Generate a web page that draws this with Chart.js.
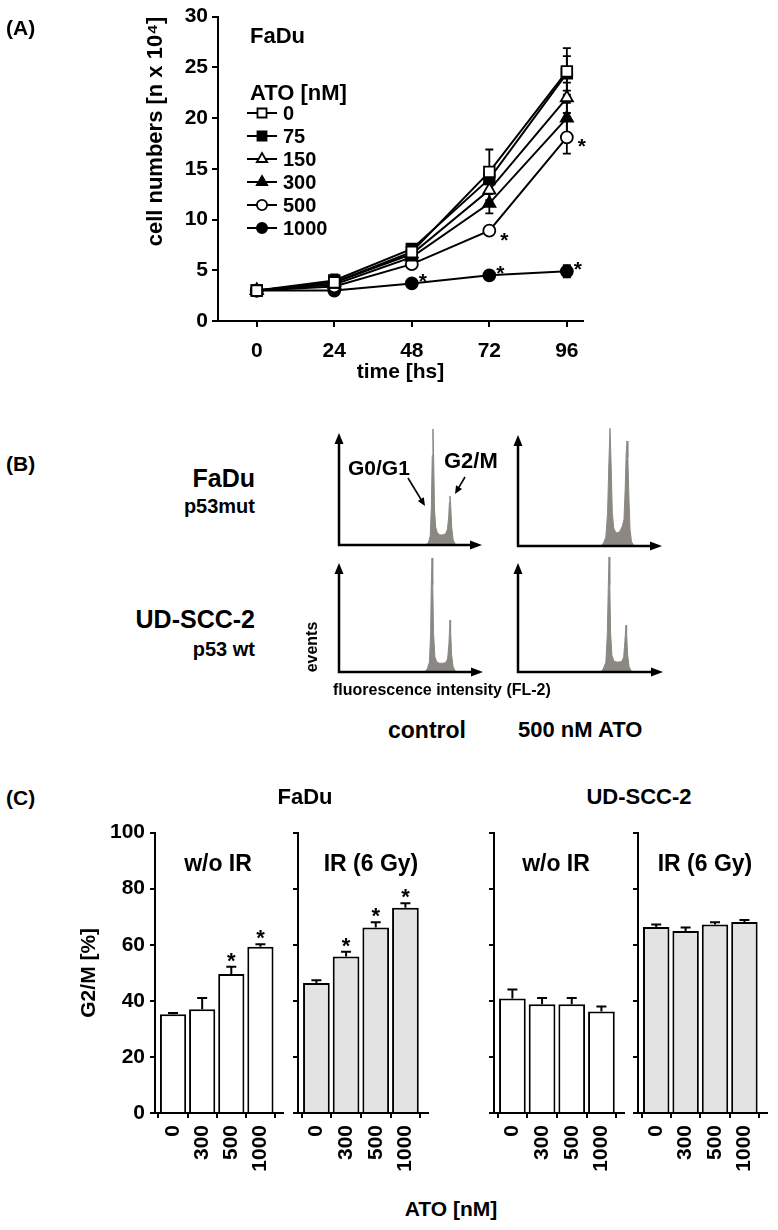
<!DOCTYPE html>
<html><head><meta charset="utf-8">
<script src="https://cdn.jsdelivr.net/npm/chart.js@4.4.1/dist/chart.umd.min.js"></script>
<style>
html,body{margin:0;padding:0;background:#fff;}
body{width:778px;height:1230px;position:relative;overflow:hidden;font-family:"Liberation Sans",Arial,Helvetica,sans-serif;color:#000;}
canvas{position:absolute;}
.t{position:absolute;white-space:nowrap;line-height:1;font-weight:bold;}
</style></head><body>
<script>
// ================= DATA =================
// Panel A: cell numbers [n x 10^4] vs time
const hoursA = [0, 24, 48, 72, 96];
const doseLabelsA = ['0', '75', '150', '300', '500', '1000'];
const cells0    = [3.0, 3.8, 6.8, 14.7, 24.6];
const cells75   = [3.0, 4.0, 7.1, 14.0, 24.4];
const cells150  = [3.0, 3.8, 6.6, 12.9, 22.0];
const cells300  = [3.0, 3.6, 6.3, 11.6, 20.0];
const cells500  = [3.0, 3.4, 5.6, 8.9, 18.1];
const cells1000 = [3.0, 3.0, 3.7, 4.5, 4.9];
const err0    = [0.2, 0.5, 0.4, 2.2, 2.3];
const err75   = [0.2, 0.6, 0.3, 1.0, 1.7];
const err150  = [0.2, 0.3, 0.3, 1.0, 1.5];
const err300  = [0.2, 0.3, 0.3, 1.0, 1.5];
const err500  = [0.2, 0.3, 0.3, 0.3, 1.6];
const err1000 = [0.2, 0.2, 0.2, 0.2, 0.6];
const starsA = [[4, 3], [4, 4], [5, 2], [5, 3], [5, 4]]; // [series, time index]
const yTicksA = [0, 5, 10, 15, 20, 25, 30];

// Panel B: DNA histograms (x: FL-2 scale 0-100, y: events, 100 = axis top)
const histFaDuCtrlX = [58, 61, 62.5, 63.8, 64.6, 65.2, 65.7, 66.2, 66.8, 67.6, 68.8, 70.5, 72.5, 74.5, 75.8, 76.7, 77.2, 77.6, 78.1, 78.8, 79.8, 81, 83];
const histFaDuCtrlY = [0, 0.5, 2, 8, 35, 80, 103.6, 78, 32, 16, 11, 9, 9, 10, 14, 25, 38, 43.8, 36, 16, 5, 1, 0];
const histFaDuAtoX = [55, 58, 59.5, 61, 62.2, 63.1, 63.9, 64.7, 65.5, 66.5, 68, 69.5, 71, 72.5, 73.6, 74.4, 75.1, 75.7, 76.3, 77, 77.8, 78.8, 80, 82];
const histFaDuAtoY = [0, 0.5, 3, 8, 30, 75, 106, 72, 30, 16, 12, 12, 14, 18, 24, 50, 82, 94.6, 80, 45, 15, 4, 1, 0];
const histUdCtrlX = [57, 60, 61.3, 62.8, 63.6, 64.1, 64.6, 65.1, 65.7, 66.6, 68, 70, 72, 74, 75.4, 76.3, 76.8, 77.1, 77.5, 78.2, 79.2, 80.6, 82];
const histUdCtrlY = [0, 0.5, 3, 9, 35, 80, 104.6, 80, 35, 14, 9, 8, 8, 8.5, 12, 25, 40, 47.7, 38, 16, 5, 1, 0];
const histUdAtoX = [55, 57.5, 58.8, 60.6, 61.6, 62.3, 62.8, 63.3, 63.9, 64.8, 66.2, 68, 70, 71.8, 72.9, 73.7, 74.2, 74.5, 74.9, 75.6, 76.6, 78, 80];
const histUdAtoY = [0, 0.5, 3, 9, 35, 80, 105.5, 80, 35, 15, 10, 9.2, 9.2, 10, 14, 28, 38, 43, 36, 16, 5, 1, 0];

// Panel C: G2/M [%]
const doseC = ['0', '300', '500', '1000'];
const g2mFaDuNoIR = [35.2, 37.0, 49.6, 59.3];
const errFaDuNoIR = [0.5, 4.0, 2.6, 0.9];
const starFaDuNoIR = [0, 0, 1, 1];
const g2mFaDuIR = [46.4, 55.8, 66.2, 73.2];
const errFaDuIR = [0.9, 1.7, 1.8, 1.6];
const starFaDuIR = [0, 1, 1, 1];
const g2mUdNoIR = [40.8, 38.8, 38.8, 36.2];
const errUdNoIR = [3.2, 2.2, 2.2, 1.8];
const starUdNoIR = [0, 0, 0, 0];
const g2mUdIR = [66.3, 64.9, 67.2, 68.1];
const errUdIR = [0.9, 1.3, 0.8, 0.7];
const starUdIR = [0, 0, 0, 0];
const yTicksC = [0, 20, 40, 60, 80, 100];

// ================= HELPERS =================
const FAM = "'Liberation Sans', Arial, Helvetica, sans-serif";
const F = (size) => ({family: FAM, size: size, weight: 'bold'});
function mkCanvas(x, y, w, h) {
  const c = document.createElement('canvas');
  c.width = w; c.height = h;
  c.style.left = x + 'px'; c.style.top = y + 'px';
  c.style.width = w + 'px'; c.style.height = h + 'px';
  document.body.appendChild(c);
  return c;
}
function txt(s, x, y, size, align, rot) {
  const d = document.createElement('div');
  d.className = 't'; d.textContent = s;
  d.style.fontSize = size + 'px'; d.style.left = x + 'px'; d.style.top = y + 'px';
  const tx = align === 'center' ? '-50%' : align === 'right' ? '-100%' : '0';
  d.style.transform = 'translate(' + tx + ',-50%)' + (rot ? ' rotate(' + rot + 'deg)' : '');
  d.style.zIndex = 5;
  document.body.appendChild(d);
}
Chart.defaults.color = '#000';
Chart.defaults.font.family = FAM;

// ================= PANEL A =================
const seriesA = [cells0, cells75, cells150, cells300, cells500, cells1000];
const errA = [err0, err75, err150, err300, err500, err1000];
const styleA = [
  {ps: 'rect', fill: false, r: 7.5}, {ps: 'rect', fill: true, r: 7.5},
  {ps: 'triangle', fill: false, r: 7}, {ps: 'triangle', fill: true, r: 7},
  {ps: 'circle', fill: false, r: 6}, {ps: 'circle', fill: true, r: 6}
];
const errPluginA = {
  id: 'errA',
  beforeDatasetsDraw(chart) {
    const {ctx, scales: {x, y}} = chart;
    ctx.save(); ctx.strokeStyle = '#000'; ctx.lineWidth = 1.8;
    seriesA.forEach((s, i) => s.forEach((v, j) => {
      const e = errA[i][j];
      const px = x.getPixelForValue(hoursA[j]);
      const t = y.getPixelForValue(v + e), b = y.getPixelForValue(v - e);
      ctx.beginPath();
      ctx.moveTo(px, t); ctx.lineTo(px, b);
      ctx.moveTo(px - 4, t); ctx.lineTo(px + 4, t);
      ctx.moveTo(px - 4, b); ctx.lineTo(px + 4, b);
      ctx.stroke();
    }));
    ctx.restore();
  }
};
const starOffA = {4: [15, 4], 5: [11, -7]};
const starPluginA = {
  id: 'starA',
  afterDraw(chart) {
    const {ctx, scales: {x, y}} = chart;
    ctx.save(); ctx.fillStyle = '#000'; ctx.font = 'bold 21px ' + FAM;
    ctx.textAlign = 'center'; ctx.textBaseline = 'alphabetic';
    starsA.forEach(([s, t]) => {
      const o = starOffA[s];
      ctx.fillText('*', x.getPixelForValue(hoursA[t]) + o[0], y.getPixelForValue(seriesA[s][t]) + o[1] + 12);
    });
    ctx.restore();
  }
};
const legendPluginA = {
  id: 'legA',
  afterDraw(chart) {
    const ctx = chart.ctx;
    ctx.save();
    doseLabelsA.forEach((lab, i) => {
      const yy = 113 + i * 23;
      ctx.strokeStyle = '#000'; ctx.lineWidth = 2;
      ctx.beginPath(); ctx.moveTo(247, yy); ctx.lineTo(277, yy); ctx.stroke();
      ctx.fillStyle = styleA[i].fill ? '#000' : '#fff'; ctx.lineWidth = 1.8;
      Chart.helpers.drawPoint(ctx, {pointStyle: styleA[i].ps, radius: styleA[i].r * 0.85, rotation: 0, borderWidth: 1.8}, 262, yy);
      ctx.fillStyle = '#000'; ctx.font = 'bold 20px ' + FAM; ctx.textAlign = 'left'; ctx.textBaseline = 'middle';
      ctx.fillText(lab, 283, yy + 1);
    });
    ctx.restore();
  }
};
const cA = mkCanvas(0, 0, 600, 393);
new Chart(cA, {
  type: 'line',
  data: {
    datasets: seriesA.map((s, i) => ({
      label: doseLabelsA[i],
      data: hoursA.map((h, j) => ({x: h, y: s[j]})),
      borderColor: '#000', borderWidth: 2, tension: 0, fill: false,
      pointStyle: styleA[i].ps, pointRadius: styleA[i].r,
      pointBackgroundColor: styleA[i].fill ? '#000' : '#fff',
      pointBorderColor: '#000', pointBorderWidth: 1.8
    }))
  },
  options: {
    responsive: false, animation: false, events: [], devicePixelRatio: 1,
    layout: {padding: {left: 139, right: 17, top: 13, bottom: 5}},
    plugins: {legend: {display: false}, tooltip: {enabled: false}},
    scales: {
      x: {
        type: 'linear', min: -12, max: 101,
        afterBuildTicks: s => { s.ticks = hoursA.map(v => ({value: v})); },
        afterFit: s => { s.height = 67; },
        grid: {drawOnChartArea: false, color: '#000', lineWidth: 2, tickLength: 6},
        border: {color: '#000', width: 2},
        ticks: {color: '#000', font: F(21), padding: 12},
        title: {display: true, text: 'time [hs]', color: '#000', font: F(21), padding: {top: 0, bottom: 3}}
      },
      y: {
        min: 0, max: 30,
        afterBuildTicks: s => { s.ticks = yTicksA.map(v => ({value: v})); },
        afterFit: s => { s.width = 79; },
        grid: {drawOnChartArea: false, color: '#000', lineWidth: 2, tickLength: 6},
        border: {color: '#000', width: 2},
        ticks: {color: '#000', font: F(21), padding: 4},
        title: {display: true, text: 'cell numbers [n x 10\u2074]', align: 'end', color: '#000', font: F(22), padding: {top: 4, bottom: 4}}
      }
    }
  },
  plugins: [errPluginA, starPluginA, legendPluginA]
});
txt('(A)', 6, 27, 21, 'left');
txt('FaDu', 250, 36, 22, 'left');
txt('ATO [nM]', 250, 93, 22, 'left');

// ================= PANEL B =================
const arrowPluginB = {
  id: 'arrB',
  afterDraw(chart) {
    const {ctx, chartArea: a, scales: {y}} = chart;
    const top = y.getPixelForValue(100);
    ctx.save(); ctx.strokeStyle = '#000'; ctx.fillStyle = '#000'; ctx.lineWidth = 2.5;
    ctx.beginPath(); ctx.moveTo(a.left, top + 8); ctx.lineTo(a.left, a.bottom); ctx.lineTo(a.right - 9, a.bottom); ctx.stroke();
    ctx.beginPath(); ctx.moveTo(a.left, top); ctx.lineTo(a.left - 4.5, top + 11); ctx.lineTo(a.left + 4.5, top + 11); ctx.closePath(); ctx.fill();
    ctx.beginPath(); ctx.moveTo(a.right, a.bottom); ctx.lineTo(a.right - 12, a.bottom - 4.5); ctx.lineTo(a.right - 12, a.bottom + 4.5); ctx.closePath(); ctx.fill();
    const ann = chart.options.plugins.ann;
    if (ann) {
      ann.forEach(([x1, y1, x2, y2]) => {
        const ang = Math.atan2(y2 - y1, x2 - x1);
        ctx.lineWidth = 1.6;
        ctx.beginPath(); ctx.moveTo(x1, y1); ctx.lineTo(x2 - 5 * Math.cos(ang), y2 - 5 * Math.sin(ang)); ctx.stroke();
        ctx.beginPath(); ctx.moveTo(x2, y2);
        ctx.lineTo(x2 - 8 * Math.cos(ang) + 3.5 * Math.sin(ang), y2 - 8 * Math.sin(ang) - 3.5 * Math.cos(ang));
        ctx.lineTo(x2 - 8 * Math.cos(ang) - 3.5 * Math.sin(ang), y2 - 8 * Math.sin(ang) + 3.5 * Math.cos(ang));
        ctx.closePath(); ctx.fill();
      });
    }
    ctx.restore();
  }
};
function mkHist(axisX, tipX, arrowTop, bottom, xs, ys, ann) {
  const h = bottom - arrowTop;
  const cx = axisX - 14, cy = arrowTop - 16;
  const c = mkCanvas(cx, cy, tipX - axisX + 22, h + 24);
  const annLocal = ann ? ann.map(([a, b, d, e]) => [a - cx, b - cy, d - cx, e - cy]) : null;
  new Chart(c, {
    type: 'line',
    data: {datasets: [{data: xs.map((v, i) => ({x: v, y: ys[i]})), borderColor: '#8b8883', backgroundColor: '#8b8883', borderWidth: 1, fill: 'origin', pointRadius: 0, tension: 0}]},
    options: {
      responsive: false, animation: false, events: [], devicePixelRatio: 1,
      layout: {padding: {left: 14, right: 8, bottom: 8, top: 16 - 0.1 * h}},
      plugins: {legend: {display: false}, tooltip: {enabled: false}, ann: annLocal},
      scales: {x: {type: 'linear', min: 0, max: 100, display: false}, y: {min: 0, max: 110, display: false}}
    },
    plugins: [arrowPluginB]
  });
}
mkHist(339, 482, 433, 545, histFaDuCtrlX, histFaDuCtrlY, [[408, 478, 425, 506], [465, 477, 455, 494]]);
mkHist(518, 662, 435, 546, histFaDuAtoX, histFaDuAtoY, null);
mkHist(339, 483, 563, 672, histUdCtrlX, histUdCtrlY, null);
mkHist(518, 663, 563, 672, histUdAtoX, histUdAtoY, null);
txt('(B)', 6, 463, 21, 'left');
txt('FaDu', 255, 478, 25, 'right');
txt('p53mut', 255, 506, 20, 'right');
txt('UD-SCC-2', 255, 619, 25, 'right');
txt('p53 wt', 255, 649, 20, 'right');
txt('G0/G1', 348, 467, 21, 'left');
txt('G2/M', 444, 461, 22, 'left');
txt('events', 312, 647, 16, 'center', -90);
txt('fluorescence intensity (FL-2)', 333, 690, 16, 'left');
txt('control', 388, 730, 23, 'left');
txt('500 nM ATO', 518, 730, 22, 'left');

// ================= PANEL C =================
const errPluginC = {
  id: 'errC',
  afterDatasetsDraw(chart) {
    const {ctx, scales: {y}} = chart;
    const o = chart.options.plugins.bars;
    const meta = chart.getDatasetMeta(0);
    ctx.save(); ctx.strokeStyle = '#000'; ctx.lineWidth = 2; ctx.fillStyle = '#000';
    ctx.font = 'bold 22px ' + FAM; ctx.textAlign = 'center'; ctx.textBaseline = 'alphabetic';
    o.vals.forEach((v, i) => {
      const px = meta.data[i].x;
      const t = y.getPixelForValue(v + o.errs[i]), b = y.getPixelForValue(v);
      ctx.beginPath(); ctx.moveTo(px, b); ctx.lineTo(px, t); ctx.moveTo(px - 5, t); ctx.lineTo(px + 5, t); ctx.stroke();
      if (o.stars[i]) ctx.fillText('*', px, t + 1);
    });
    ctx.restore();
  }
};
function mkBar(left, axisX, rightX, vals, errs, stars, color, first) {
  const w = rightX - left + 8;
  const c = mkCanvas(left, 815, w, 375);
  const padLeft = first ? 13 : 0;
  new Chart(c, {
    type: 'bar',
    data: {datasets: [{data: vals.map((v, i) => ({x: i, y: v})), backgroundColor: color, borderColor: '#000', borderWidth: 2, barPercentage: 0.9, categoryPercentage: 1}]},
    options: {
      responsive: false, animation: false, events: [], devicePixelRatio: 1,
      layout: {padding: {left: padLeft, right: 8, top: 11, bottom: 0}},
      plugins: {legend: {display: false}, tooltip: {enabled: false}, bars: {vals: vals, errs: errs, stars: stars}},
      scales: {
        x: {
          type: 'linear', min: -0.62, max: 3.76, offset: false,
          afterBuildTicks: s => { s.ticks = doseC.map((d, i) => ({value: i})); },
          afterFit: s => { s.height = 77; },
          grid: {drawOnChartArea: false, color: '#000', lineWidth: 2, tickLength: 5},
          border: {color: '#000', width: 2},
          ticks: {color: '#000', font: F(21), minRotation: 90, maxRotation: 90, autoSkip: false, padding: 7, callback: v => doseC[v]}
        },
        y: {
          min: 0, max: 100,
          afterBuildTicks: s => { s.ticks = yTicksC.map(v => ({value: v})); },
          afterFit: s => { s.width = axisX - left - padLeft; },
          grid: {drawOnChartArea: false, color: '#000', lineWidth: 2, tickLength: 5},
          border: {color: '#000', width: 2},
          ticks: {color: '#000', font: F(21), padding: 5, callback: first ? (v => v) : (() => '')},
          title: {display: first, text: 'G2/M [%]', color: '#000', font: F(21), padding: {top: 4, bottom: 4}}
        }
      }
    },
    plugins: [errPluginC]
  });
}
mkBar(60, 155, 286, g2mFaDuNoIR, errFaDuNoIR, starFaDuNoIR, '#ffffff', true);
mkBar(288, 298, 431, g2mFaDuIR, errFaDuIR, starFaDuIR, '#e3e3e3', false);
mkBar(484, 494, 627, g2mUdNoIR, errUdNoIR, starUdNoIR, '#ffffff', false);
mkBar(628, 638, 770, g2mUdIR, errUdIR, starUdIR, '#e3e3e3', false);
txt('(C)', 6, 797, 21, 'left');
txt('FaDu', 305, 797, 22, 'center');
txt('UD-SCC-2', 639, 797, 22, 'center');
txt('w/o IR', 218, 863, 23, 'center');
txt('IR (6 Gy)', 371, 863, 23, 'center');
txt('w/o IR', 556, 863, 23, 'center');
txt('IR (6 Gy)', 705, 863, 23, 'center');
txt('ATO [nM]', 451, 1208, 21, 'center');
</script>
</body></html>
